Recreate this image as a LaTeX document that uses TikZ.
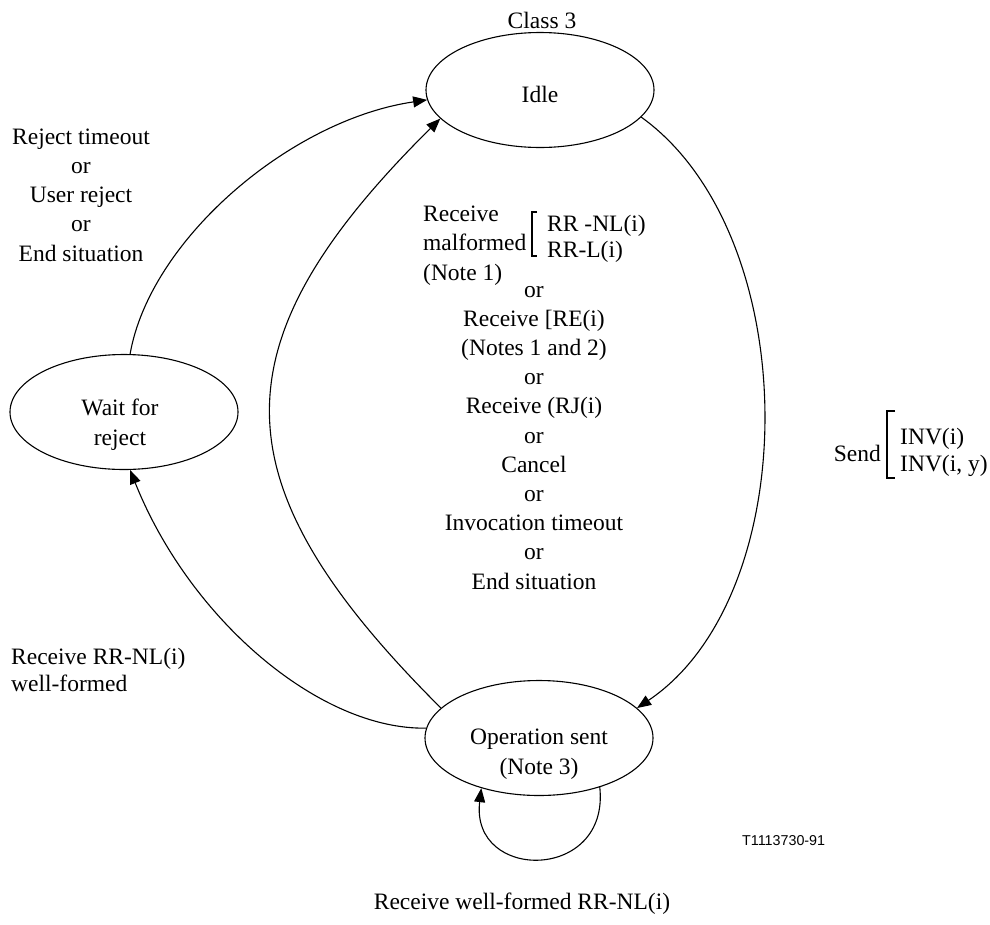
\documentclass[tikz,border=0pt]{standalone}
\usepackage{fontspec}
\setmainfont{Liberation Serif}
\newfontfamily\labelsans{Liberation Sans}
\usetikzlibrary{shapes.geometric,arrows.meta}
\begin{document}
\begin{tikzpicture}[x=1pt,y=-1pt,
  state/.style={draw,ellipse,line width=1.1pt,minimum width=228pt,minimum height=115pt,inner sep=0pt},
  txt/.style={font=\fontsize{23.5}{29.2}\selectfont,inner sep=0pt},
  flow/.style={line width=1.1pt,-{Triangle[length=14pt,width=11pt]}},
  bracket/.style={line width=1.1pt}]
\fill[white] (0,0) rectangle (990,924);
\useasboundingbox (0,0) rectangle (990,924);

% states
\node[state] (idle) at (540,90) {};
\node[state] (wait) at (124,412) {};
\node[state] (op) at (539,738) {};

% multi-line texts are placed by the baseline of their last line
\node[txt,anchor=base] (class) at (542,28) {Class 3};
\node[txt,anchor=base] (idlet) at (540,102) {Idle};
\node[txt,anchor=base,align=center] (waitt) at (120,445) {Wait for\\reject};
\node[txt,anchor=base,align=center] (opt) at (539,774) {Operation sent\\(Note 3)};

% transitions
\draw[flow] (idle.-15) .. controls (805,235) and (805,595) .. (op.17);
\draw[flow] (op.163) .. controls (215,483) and (213,344) .. (idle.196);
\draw[flow] (wait.84) .. controls (150,240) and (290,120) .. (idle.185);
\draw[flow] (op.175) .. controls (320,730) and (190,620) .. (wait.-84);
\draw[flow] (op.-39) .. controls (610,882) and (470,882) .. (op.-139);

% transition labels
\node[txt,anchor=base,align=center] (rej) at (81,261)
  {Reject timeout\\or\\User reject\\or\\End situation};

\node[txt,anchor=base west,align=left] (malf) at (423,280)
  {Receive\\malformed\\(Note 1)};
\draw[bracket] (537,212) -- (532,212) -- (532,256) -- (537,256);
\node[txt,anchor=base west] (rrnl) at (547,231) {RR -NL(i)};
\node[txt,anchor=base west] (rrl) at (547,257) {RR-L(i)};

\node[txt,anchor=base,align=center] (alts) at (534,589)
  {or\\Receive [RE(i)\\(Notes 1 and 2)\\or\\Receive (RJ(i)\\or\\Cancel\\or\\Invocation timeout\\or\\End situation};

\node[txt,anchor=base east] (send) at (881,461) {Send};
\draw[bracket] (895,411) -- (887,411) -- (887,478) -- (895,478);
\node[txt,anchor=base west] (inv1) at (900,444) {INV(i)};
\node[txt,anchor=base west] (inv2) at (900,471) {INV(i, y)};

\node[txt,font=\fontsize{23.5}{27.5}\selectfont,anchor=base west,align=left] (wf) at (11,691.5)
  {Receive RR-NL(i)\\well-formed};

\node[txt,anchor=base] (loopt) at (522,909) {Receive well-formed RR-NL(i)};

\node[font=\labelsans\fontsize{14.3}{17}\selectfont,anchor=base west,inner sep=0pt] (fig) at (742,845) {T1113730-91};
\end{tikzpicture}
\end{document}
